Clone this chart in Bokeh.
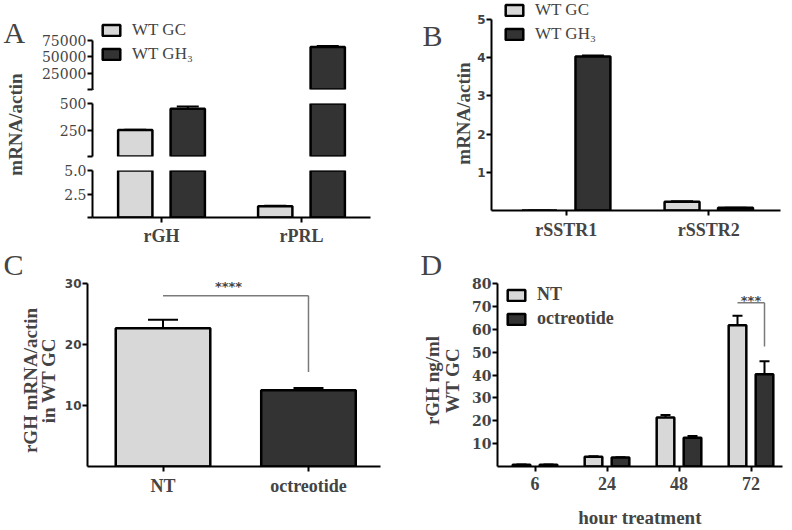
import math
from bokeh.plotting import figure
from bokeh.layouts import column, row
from bokeh.models import (ColumnDataSource, FixedTicker, Whisker, TeeHead, Legend,
                          LegendItem, Label, Range1d, CDSView, BooleanFilter)
from bokeh.transform import dodge
from bokeh.embed import file_html
from bokeh.resources import INLINE

# ---------------- data ----------------
# Panel A (broken y axis)
a_categories = ["rGH", "rPRL"]
a_wt_gc = [250, 1.2]
a_wt_gc_err = [3, 0.05]
a_wt_gh3 = [450, 65000]
a_wt_gh3_err = [22, 1500]
a_seg_ranges = [(0, 5), (0, 500), (0, 75000)]          # bottom, middle, top segments
a_seg_ticks = [[0, 2.5, 5], [0, 250, 500], [0, 25000, 50000, 75000]]
a_seg_labels = [["", "2.5", "5.0"], ["", "250", "500"], ["", "25000", "50000", "75000"]]
a_ylabel = "mRNA/actin"
a_series = ["WT GC", "WT GH\u2083"]

# Panel B
b_categories = ["rSSTR1", "rSSTR2"]
b_wt_gc = [0.0, 0.23]
b_wt_gc_err = [0.0, 0.01]
b_wt_gh3 = [4.03, 0.07]
b_wt_gh3_err = [0.03, 0.005]
b_ticks = [1, 2, 3, 4, 5]
b_ylabel = "mRNA/actin"
b_series = ["WT GC", "WT GH\u2083"]

# Panel C
c_categories = ["NT", "octreotide"]
c_values = [22.7, 12.5]
c_err = [1.4, 0.4]
c_ticks = [10, 20, 30]
c_sig = "****"
c_ylabel = ["rGH mRNA/actin", "in WT GC"]

# Panel D
d_categories = ["6", "24", "48", "72"]
d_nt = [0.8, 4.3, 21.5, 61.9]
d_nt_err = [0.1, 0.2, 1.1, 4.1]
d_oct = [0.8, 3.9, 12.6, 40.4]
d_oct_err = [0.1, 0.2, 0.8, 5.7]
d_ticks = [10, 20, 30, 40, 50, 60, 70, 80]
d_sig = "***"
d_ylabel = ["rGH ng/ml", "WT GC"]
d_xlabel = "hour treatment"
d_series = ["NT", "octreotide"]

# ---------------- style ----------------
LIGHT = "#d8d8d8"
DARK = "#333333"
SERIF = "Liberation Serif"
BAR_LW = 2.5
OFF = 0.1875
BW = 0.245
TOP_H = 248      # height of the upper row (panels A, B)
BOT_H = 282      # height of the lower row (panels C, D)


def base_fig(w, h, left, right, top, bottom, xr, yr, show_x=True):
    p = figure(width=w, height=h, x_range=xr, y_range=yr, output_backend="svg",
               toolbar_location=None, tools="", min_border_left=left,
               min_border_right=right, min_border_top=top, min_border_bottom=bottom,
               x_axis_location="below" if show_x else None)
    p.outline_line_color = None
    p.grid.visible = False
    p.background_fill_color = "white"
    p.border_fill_color = "white"
    for ax in p.axis:
        ax.axis_line_width = 2
        ax.axis_line_color = "black"
        ax.major_tick_line_width = 2
        ax.major_tick_in = 0
        ax.major_tick_out = 5
        ax.minor_tick_line_color = None
        ax.major_label_standoff = 1
        ax.axis_label_text_font = SERIF
        ax.axis_label_text_font_style = "bold"
        ax.axis_label_text_font_size = "19px"
    return p


def text_fig(w, h):
    """A borderless canvas used only for panel letters and y titles."""
    p = figure(width=w, height=h, x_range=Range1d(0, w), y_range=Range1d(0, h),
               output_backend="svg", toolbar_location=None, tools="",
               min_border=0, x_axis_location=None, y_axis_location=None)
    p.outline_line_color = None
    p.grid.visible = False
    p.background_fill_color = "white"
    p.border_fill_color = "white"
    return p


def letter(p, text, x, y):
    p.add_layout(Label(x=x, y=y, text=text, text_font=SERIF, text_font_size="30px",
                       text_baseline="middle"))


def vtitle(p, text, x, y):
    p.add_layout(Label(x=x, y=y, text=text, angle=math.pi / 2, text_font=SERIF,
                       text_font_style="bold", text_font_size="19px",
                       text_align="center", text_baseline="middle"))


def style_x(p, cats, font_size="18px", standoff=4):
    ax = p.xaxis[0]
    ax.ticker = FixedTicker(ticks=list(range(len(cats))))
    ax.major_label_overrides = {i: c for i, c in enumerate(cats)}
    ax.major_label_text_font = SERIF
    ax.major_label_text_font_style = "bold"
    ax.major_label_text_font_size = font_size
    ax.major_label_standoff = standoff


def style_y(p, ticks, font, bold, size, labels=None):
    ax = p.yaxis[0]
    ax.ticker = FixedTicker(ticks=ticks)
    if labels is not None:
        ax.major_label_overrides = {t: l for t, l in zip(ticks, labels)}
    ax.major_label_text_font = font
    ax.major_label_text_font_style = "bold" if bold else "normal"
    ax.major_label_text_font_size = size


def add_err(p, src, xfield, off, lo, hi, head):
    w = Whisker(source=src, base=dodge(xfield, off), lower=lo, upper=hi,
                dimension="height", line_width=2, line_color="black",
                lower_head=None,
                upper_head=TeeHead(size=head, line_width=2, line_color="black"))
    p.add_layout(w)


def make_legend(p, items, loc, bold=False, size="17px", spacing=4):
    leg = Legend(items=[LegendItem(label=l, renderers=[r]) for l, r in items],
                 location=loc, label_text_font=SERIF, label_text_font_size=size,
                 label_text_font_style="bold" if bold else "normal",
                 glyph_width=22, glyph_height=14, label_standoff=10, spacing=spacing,
                 padding=0, margin=0, border_line_alpha=0, background_fill_alpha=0,
                 label_height=14)
    p.add_layout(leg)


# ---------------- Panel A ----------------
aL = text_fig(30, TOP_H)
letter(aL, "A", 3, TOP_H - 32)
vtitle(aL, a_ylabel, 15, TOP_H - 124)

a_idx = list(range(len(a_categories)))
a_xr = Range1d(-0.493, 1.493)
src_a = ColumnDataSource(dict(idx=a_idx, gc=a_wt_gc, gh=a_wt_gh3))
# (figure height, top border, bottom border) of bottom, middle, top segments
a_geom = [(85, 7, 25), (67, 7, 7), (96, 0, 7)]
a_ends = [5, 500, 75000 * 89 / 49]
a_figs = []
for k in range(3):
    h, bt, bb = a_geom[k]
    lo, hi = a_seg_ranges[k]
    prev_hi = a_seg_ranges[k - 1][1] if k > 0 else -1
    keep_gc = [v > prev_hi for v in a_wt_gc]
    keep_gh = [v > prev_hi for v in a_wt_gh3]
    bottom = 0 if k == 0 else -0.1 * hi
    p = base_fig(370, h, 62, 30, bt, bb, a_xr, Range1d(0, a_ends[k]), show_x=(k == 0))
    p.vbar(x=dodge("idx", -OFF), top="gc", bottom=bottom, width=BW, source=src_a,
           view=CDSView(filter=BooleanFilter(keep_gc)),
           fill_color=LIGHT, line_color="black", line_width=BAR_LW)
    p.vbar(x=dodge("idx", OFF), top="gh", bottom=bottom, width=BW, source=src_a,
           view=CDSView(filter=BooleanFilter(keep_gh)),
           fill_color=DARK, line_color="black", line_width=BAR_LW)
    ws_gc = ColumnDataSource(dict(
        idx=[i for i in a_idx if keep_gc[i]],
        v=[a_wt_gc[i] for i in a_idx if keep_gc[i]],
        hi=[a_wt_gc[i] + a_wt_gc_err[i] for i in a_idx if keep_gc[i]]))
    ws_gh = ColumnDataSource(dict(
        idx=[i for i in a_idx if keep_gh[i]],
        v=[a_wt_gh3[i] for i in a_idx if keep_gh[i]],
        hi=[a_wt_gh3[i] + a_wt_gh3_err[i] for i in a_idx if keep_gh[i]]))
    add_err(p, ws_gc, "idx", -OFF, "v", "hi", 22)
    add_err(p, ws_gh, "idx", OFF, "v", "hi", 22)
    style_y(p, a_seg_ticks[k], "DejaVu Serif", False, "14px", a_seg_labels[k])
    p.yaxis[0].bounds = (lo, hi)
    if k == 0:
        style_x(p, a_categories, standoff=3)
    if k == 2:
        # legend key swatches, placed far outside the visible area
        sw1 = p.vbar(x=[-1000], top=-0.5 * hi, bottom=-hi, width=BW,
                     fill_color=LIGHT, line_color="black", line_width=BAR_LW)
        sw2 = p.vbar(x=[-1000], top=-0.5 * hi, bottom=-hi, width=BW,
                     fill_color=DARK, line_color="black", line_width=BAR_LW)
        make_legend(p, [(a_series[0], sw1), (a_series[1], sw2)], (8, 25))
    a_figs.append(p)

col_a = row(column(aL), column(a_figs[2], a_figs[1], a_figs[0], spacing=0), spacing=0)

# ---------------- Panel B ----------------
bL = text_fig(74, TOP_H)
letter(bL, "B", 22, TOP_H - 35)
vtitle(bL, b_ylabel, 63, TOP_H - 113)

b_idx = list(range(len(b_categories)))
src_b = ColumnDataSource(dict(
    idx=b_idx, gc=b_wt_gc, gc_hi=[v + e for v, e in zip(b_wt_gc, b_wt_gc_err)],
    gh=b_wt_gh3, gh_hi=[v + e for v, e in zip(b_wt_gh3, b_wt_gh3_err)]))
pB = base_fig(318, TOP_H, 16, 12, 0, TOP_H - 210, Range1d(-0.524, 1.503),
              Range1d(0, 210 / 38.2))
rb1 = pB.vbar(x=dodge("idx", -OFF), top="gc", width=BW, source=src_b,
              fill_color=LIGHT, line_color="black", line_width=BAR_LW)
rb2 = pB.vbar(x=dodge("idx", OFF), top="gh", width=BW, source=src_b,
              fill_color=DARK, line_color="black", line_width=BAR_LW)
add_err(pB, src_b, "idx", -OFF, "gc", "gc_hi", 22)
add_err(pB, src_b, "idx", OFF, "gh", "gh_hi", 22)
style_x(pB, b_categories)
style_y(pB, b_ticks, "DejaVu Sans", True, "12px")
pB.yaxis[0].bounds = (0, 5)
make_legend(pB, [(b_series[0], rb1), (b_series[1], rb2)], (12, 166))

# ---------------- Panel C ----------------
cL = text_fig(60, BOT_H)
letter(cL, "C", 3, BOT_H - (264 - TOP_H))
vtitle(cL, c_ylabel[0], 30, BOT_H - (380 - TOP_H))
vtitle(cL, c_ylabel[1], 48, BOT_H - (380 - TOP_H))

c_idx = list(range(len(c_categories)))
src_c = ColumnDataSource(dict(idx=c_idx, v=c_values,
                              hi=[v + e for v, e in zip(c_values, c_err)],
                              color=[LIGHT, DARK]))
pC = base_fig(340, BOT_H, 27, 20, 270 - TOP_H, 52, Range1d(-0.519, 1.495),
              Range1d(0, 208 / 6.467))
pC.vbar(x="idx", top="v", width=0.65, source=src_c, fill_color="color",
        line_color="black", line_width=BAR_LW)
add_err(pC, src_c, "idx", 0, "v", "hi", 30)
style_x(pC, c_categories, "18px")
style_y(pC, c_ticks, "DejaVu Sans", True, "12px")
pC.yaxis[0].bounds = (0, 30)
c_top = max(src_c.data["hi"])
c_br_y = c_top + 3.9
c_br_low = src_c.data["hi"][1] + 2.6
pC.segment(x0=[c_idx[0], c_idx[1]], y0=[c_br_y, c_br_y], x1=[c_idx[1], c_idx[1]],
           y1=[c_br_y, c_br_low], line_color="#7a7a7a", line_width=1.5)
pC.add_layout(Label(x=(c_idx[0] + c_idx[1]) / 2 - 0.05, y=c_br_y + 1.5, text=c_sig,
                    text_font="DejaVu Sans", text_font_style="bold",
                    text_font_size="13px", text_align="center",
                    text_baseline="alphabetic"))

# ---------------- Panel D ----------------
dL = text_fig(65, BOT_H)
letter(dL, "D", 20, BOT_H - (264 - TOP_H))
vtitle(dL, d_ylabel[0], 32, BOT_H - (380 - TOP_H))
vtitle(dL, d_ylabel[1], 52, BOT_H - (380 - TOP_H))

d_idx = list(range(len(d_categories)))
src_d = ColumnDataSource(dict(
    idx=d_idx, nt=d_nt, nt_hi=[v + e for v, e in zip(d_nt, d_nt_err)],
    oc=d_oct, oc_hi=[v + e for v, e in zip(d_oct, d_oct_err)]))
pD = base_fig(327, BOT_H, 32, 10, 270 - TOP_H, 54, Range1d(-0.521, 3.4375),
              Range1d(0, 206 / 2.4))
rd1 = pD.vbar(x=dodge("idx", -OFF), top="nt", width=BW, source=src_d,
              fill_color=LIGHT, line_color="black", line_width=BAR_LW)
rd2 = pD.vbar(x=dodge("idx", OFF), top="oc", width=BW, source=src_d,
              fill_color=DARK, line_color="black", line_width=BAR_LW)
add_err(pD, src_d, "idx", -OFF, "nt", "nt_hi", 10)
add_err(pD, src_d, "idx", OFF, "oc", "oc_hi", 10)
style_x(pD, d_categories)
pD.xaxis[0].major_label_standoff = 5
pD.xaxis[0].axis_label = d_xlabel
pD.xaxis[0].axis_label_standoff = 14
style_y(pD, d_ticks, "DejaVu Serif", True, "14px")
pD.yaxis[0].bounds = (0, 80)
last = d_idx[-1]
d_br_y = src_d.data["nt_hi"][last] + 5.7
d_br_low = src_d.data["oc_hi"][last] + 6.4
pD.segment(x0=[last - OFF, last + OFF], y0=[d_br_y, d_br_y], x1=[last + OFF, last + OFF],
           y1=[d_br_y, d_br_low], line_color="#7a7a7a", line_width=1.5)
pD.add_layout(Label(x=last, y=d_br_y + 1.2, text=d_sig, text_font="DejaVu Sans",
                    text_font_style="bold", text_font_size="13px", text_align="center",
                    text_baseline="alphabetic"))
make_legend(pD, [(d_series[0], rd1), (d_series[1], rd2)], (8, 137), bold=True,
            size="18px", spacing=3)

root = column(row(col_a, column(bL), pB, spacing=0),
              row(column(cL), pC, column(dL), pD, spacing=0), spacing=0)
root.styles = {"position": "absolute", "left": "0px", "top": "0px"}

open("out.html", "w").write(file_html(root, INLINE))
